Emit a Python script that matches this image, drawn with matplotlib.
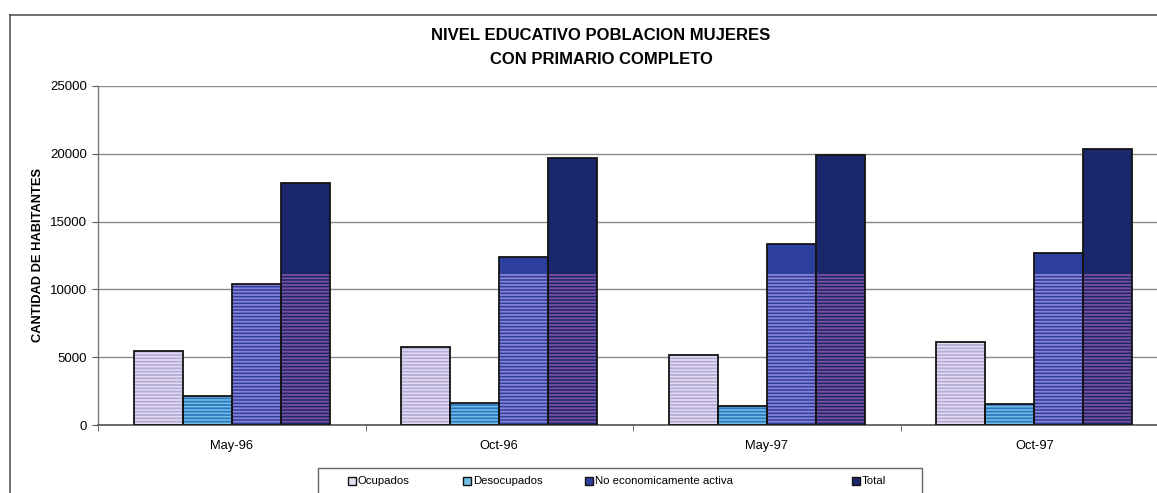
import numpy as np
import matplotlib
matplotlib.use("Agg")
import matplotlib.pyplot as plt
from matplotlib.patches import Rectangle
from matplotlib.lines import Line2D

plt.rcParams['font.family'] = ['Liberation Sans', 'DejaVu Sans']
plt.rcParams['hatch.linewidth'] = 1.3

# ---- data ----
categories = ["May-96", "Oct-96", "May-97", "Oct-97"]
series_names = ["Ocupados", "Desocupados", "No economicamente activa", "Total"]
ocupados = [5450, 5770, 5150, 6140]
desocupados = [2140, 1620, 1420, 1550]
no_activa = [10400, 12370, 13330, 12680]
total = [17820, 19670, 19910, 20350]
yticks = [0, 5000, 10000, 15000, 20000, 25000]
title_lines = ["NIVEL EDUCATIVO POBLACION MUJERES", "CON PRIMARIO COMPLETO"]
ylabel = "CANTIDAD DE HABITANTES"

# ---- styles ----
base_colors = ["#e6def0", "#74bfe6", "#2d3f9e", "#1b276c"]
stripe_colors = ["#b4acd9", "#2f78c0", "#8a82d2", "#7a4f9e"]
stripe_limit = [None, None, 11200, 11200]

W, H = 1157, 493
fig = plt.figure(figsize=(W / 100, H / 100), dpi=100)
ax = fig.add_axes([98 / W, (H - 425) / H, (1168 - 98) / W, 339 / H])

x = np.arange(len(categories))
bw = 0.183
offsets = [-1.5, -0.5, 0.5, 1.5]
all_series = [ocupados, desocupados, no_activa, total]

for i, vals in enumerate(all_series):
    vals = np.array(vals, dtype=float)
    xs = x + offsets[i] * bw
    ax.bar(xs, vals, bw, color=base_colors[i], edgecolor='none', zorder=2)
    sv = vals if stripe_limit[i] is None else np.minimum(vals, stripe_limit[i])
    ax.bar(xs, sv, bw, facecolor='none', edgecolor=stripe_colors[i],
           hatch='-----', linewidth=0, zorder=3)
    ax.bar(xs, vals, bw, facecolor='none', edgecolor='#141414',
           linewidth=1.3, zorder=4)

ax.set_xlim(-0.5, len(categories) - 0.5)
ax.set_ylim(0, 25000)
ax.set_yticks(yticks)
ax.set_yticklabels([str(t) for t in yticks], fontsize=9.5)
ax.set_xticks(x)
ax.set_xticklabels(categories, fontsize=9.3)
ax.tick_params(axis='x', length=0, pad=11)
ax.tick_params(axis='y', length=4, color='#555555', pad=4)
ax.set_xticks(np.arange(len(categories) + 1) - 0.5, minor=True)
ax.tick_params(axis='x', which='minor', length=4, color='#555555', direction='out')

ax.grid(axis='y', color='#8a8a8a', linewidth=1.0, zorder=0)
ax.set_axisbelow(True)
for s in ['top', 'right']:
    ax.spines[s].set_visible(False)
ax.spines['left'].set_color('#777777')
ax.spines['bottom'].set_color('#555555')
ax.spines['left'].set_linewidth(1.0)
ax.spines['bottom'].set_linewidth(1.2)

fig.text(601 / W, 1 - 36 / H, title_lines[0], ha='center', va='center',
         fontsize=12, fontweight='bold')
fig.text(601 / W, 1 - 59 / H, title_lines[1], ha='center', va='center',
         fontsize=12, fontweight='bold')
fig.text(38 / W, 1 - 255 / H, ylabel, rotation=90, ha='center', va='center',
         fontsize=9.3, fontweight='bold')

# outer chart border
fig.add_artist(Line2D([10 / W, 1.0], [1 - 15 / H, 1 - 15 / H],
                      transform=fig.transFigure, color='#555555', linewidth=1.2))
fig.add_artist(Line2D([10 / W, 10 / W], [1 - 15 / H, 0],
                      transform=fig.transFigure, color='#555555', linewidth=1.2))

# legend (drawn manually to match the original spacing)
leg_left, leg_right, leg_top = 318, 922, 468
fig.add_artist(Rectangle((leg_left / W, -0.02), (leg_right - leg_left) / W,
                         1 - leg_top / H + 0.02, transform=fig.transFigure,
                         facecolor='white', edgecolor='#666666', linewidth=1.0))
handle_x = [348, 463, 585, 852]
leg_y = 481
for i, name in enumerate(series_names):
    fig.add_artist(Rectangle(((handle_x[i]) / W, 1 - (leg_y + 4) / H), 8 / W, 8 / H,
                             transform=fig.transFigure, facecolor=base_colors[i],
                             edgecolor='#141414', linewidth=1.0))
    fig.text((handle_x[i] + 10) / W, 1 - leg_y / H, name, ha='left', va='center',
             fontsize=8.2)

fig.savefig("out.png", dpi=100)
